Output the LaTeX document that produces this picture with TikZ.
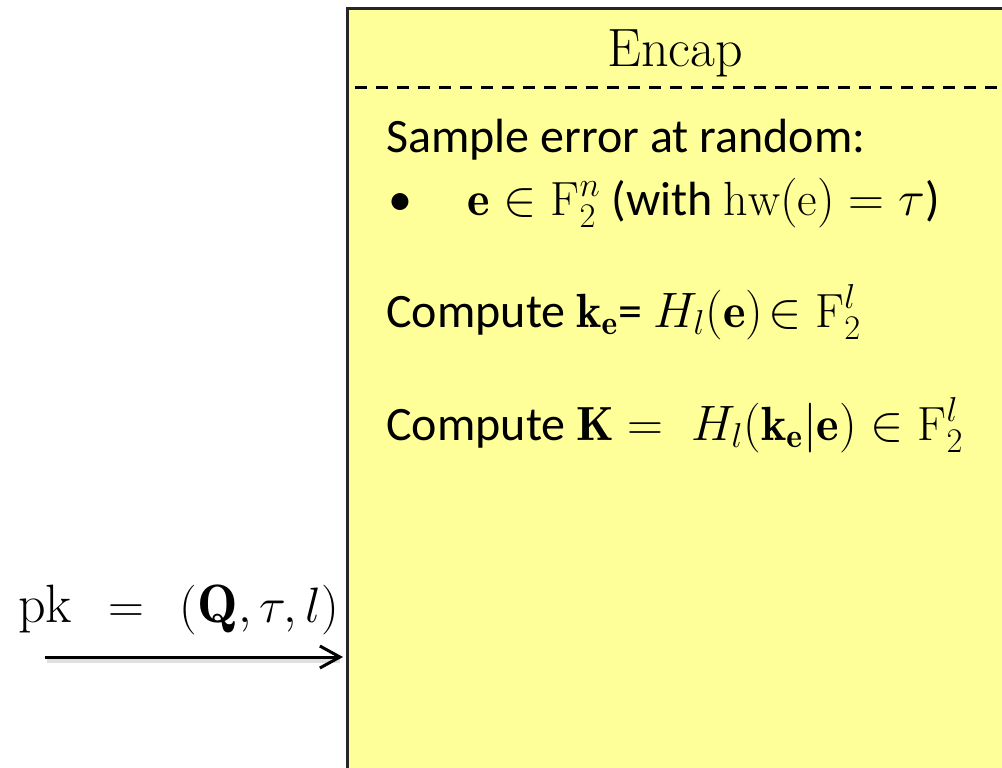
\documentclass[tikz,border=0pt]{standalone}
\usepackage{fontspec}
\newfontfamily\calibri{Carlito}
\usetikzlibrary{arrows.meta}
\definecolor{boxyellow}{HTML}{FFFF99}
\begin{document}
\begin{tikzpicture}[x=0.5pt,y=-0.5pt,
  body/.style={font=\calibri\fontsize{24}{29}\selectfont, anchor=base west, inner sep=0pt},
  titletext/.style={font=\fontsize{27}{32}\selectfont, anchor=base, inner sep=0pt},
  keytext/.style={font=\fontsize{27}{32}\selectfont, anchor=base west, inner sep=0pt},
  boxline/.style={draw=black!85, line width=1.5pt, fill=boxyellow},
  sepline/.style={draw=black, line width=1.5pt, dash pattern=on 6pt off 4.5pt},
  arrowline/.style={draw=black, line width=1.5pt, -{Straight Barb[length=10pt,width=11pt,line width=1.5pt]}},
  shadowline/.style={draw=black!25, line width=2pt, opacity=0.5}]
\useasboundingbox (0,0) rectangle (1002,767);
\clip (0,0) rectangle (1002,767);
% the box (runs off the right and bottom edges)
\path[boxline] (347,8) rectangle (1020,790);
\coordinate (sepL) at (355,87);
\coordinate (sepR) at (1010,87);
\draw[sepline] (sepL) -- (sepR);
% texts
\node[titletext] (title) at (675,66) {Encap};
\node[body] (l1) at (386,152) {Sample error at random:};
\node[body] (bul) at (388,215) {\textbullet};
\node[body] (l2) at (467,215) {$\mathbf{e}\in \mathrm{F}_2^{n}$ (with $\mathrm{hw}(\mathrm{e})=\tau$)};
\node[body] (l3) at (386,327) {Compute $\mathbf{k}_{\mathbf{e}}$= $H_l(\mathbf{e})\!\in \mathrm{F}_2^{l}$};
\node[body] (l4) at (386,440) {Compute $\mathbf{K}=\; H_l(\mathbf{k}_{\mathbf{e}}|\mathbf{e})\in \mathrm{F}_2^{l}$};
\node[keytext] (pk) at (18,622) {$\mathrm{pk}\;\,=\;\,(\mathbf{Q},\tau,l)$};
% arrow into the box
\coordinate (astart) at (45,657);
\coordinate (aend) at (343,657);
\coordinate (sstart) at (47,661);
\coordinate (send) at (340,661);
\draw[shadowline] (sstart) -- (send);
\draw[arrowline] (astart) -- (aend);
\end{tikzpicture}
\end{document}
